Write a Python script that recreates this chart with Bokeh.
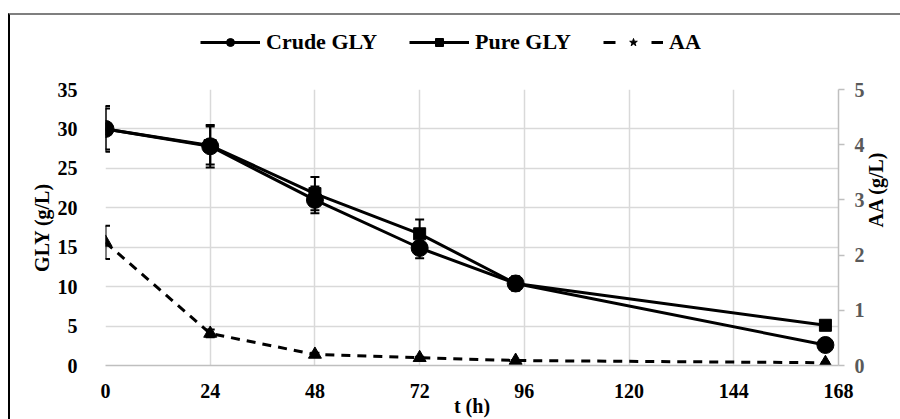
import math
from bokeh.plotting import figure
from bokeh.layouts import column
from bokeh.models import (Range1d, LinearAxis, FixedTicker, ColumnDataSource, Whisker,
                          TeeHead, Legend, LegendItem, InlineStyleSheet)
from bokeh.embed import file_html
from bokeh.resources import INLINE

# ---- data ----
t_hours = [0, 24, 48, 72, 94, 165]
crude_gly = [30.0, 27.8, 21.0, 14.9, 10.4, 2.6]
crude_err = [2.9, 2.7, 1.7, 1.3, 0.9, 0.0]
pure_gly = [30.0, 27.9, 21.8, 16.7, 10.4, 5.1]
pure_err = [2.6, 2.4, 2.1, 1.8, 0.9, 0.0]
aa = [2.23, 0.58, 0.20, 0.14, 0.09, 0.05]
aa_err = [0.30, 0.07, 0.03, 0.02, 0.01, 0.0]
x_ticks = [0, 24, 48, 72, 96, 120, 144, 168]
left_ticks = [0, 5, 10, 15, 20, 25, 30, 35]
right_ticks = [0, 1, 2, 3, 4, 5]
series_names = ["Crude GLY", "Pure GLY", "AA"]

FONT = "Liberation Serif"
TICK_SIZE = "20px"
LABEL_SIZE = "20px"
LEG_H = 75

src = ColumnDataSource(dict(
    t=t_hours,
    crude=crude_gly, crude_lo=[v - e for v, e in zip(crude_gly, crude_err)],
    crude_hi=[v + e for v, e in zip(crude_gly, crude_err)],
    pure=pure_gly, pure_lo=[v - e for v, e in zip(pure_gly, pure_err)],
    pure_hi=[v + e for v, e in zip(pure_gly, pure_err)],
    aa=aa, aa_lo=[v - e for v, e in zip(aa, aa_err)],
    aa_hi=[v + e for v, e in zip(aa, aa_err)],
))

# ---------------- main chart ----------------
p = figure(width=900, height=419 - LEG_H, output_backend="svg", toolbar_location=None,
           x_range=Range1d(0, 168), y_range=Range1d(0, 35),
           min_border_left=105, min_border_right=60, min_border_top=89 - LEG_H,
           min_border_bottom=53)
p.outline_line_color = None
p.background_fill_color = "white"
p.border_fill_color = "white"

p.extra_y_ranges = {"aa": Range1d(0, 5)}

p.xaxis.ticker = FixedTicker(ticks=x_ticks)
p.yaxis.ticker = FixedTicker(ticks=left_ticks)
for ax in [p.xaxis[0], p.yaxis[0]]:
    ax.major_label_text_font = FONT
    ax.major_label_text_font_style = "bold"
    ax.major_label_text_font_size = TICK_SIZE
    ax.major_label_text_color = "black"
    ax.axis_label_text_font = FONT
    ax.axis_label_text_font_style = "bold"
    ax.axis_label_text_font_size = LABEL_SIZE
    ax.axis_label_text_color = "black"
    ax.major_tick_line_color = None
    ax.minor_tick_line_color = None
p.xaxis.axis_line_color = "#bfbfbf"
p.xaxis.axis_line_width = 1.5
p.xaxis.major_label_standoff = 12
p.xaxis.axis_label = "t (h)"
p.xaxis.axis_label_standoff = -6
p.yaxis.axis_line_color = None
p.yaxis.major_label_standoff = 22
p.yaxis.axis_label = "GLY (g/L)"
p.yaxis.axis_label_standoff = 2

right = LinearAxis(y_range_name="aa", ticker=FixedTicker(ticks=right_ticks),
                   axis_label="AA (g/L)")
right.major_label_text_font = FONT
right.major_label_text_font_style = "bold"
right.major_label_text_font_size = TICK_SIZE
right.major_label_text_color = "#595959"
right.axis_label_text_font = FONT
right.axis_label_text_font_style = "bold"
right.axis_label_text_font_size = LABEL_SIZE
right.axis_label_text_color = "black"
right.axis_label_orientation = math.pi / 2
right.axis_line_color = "#bfbfbf"
right.axis_line_width = 1.5
right.major_tick_line_color = "#bfbfbf"
right.major_tick_line_width = 1.5
right.major_tick_out = 6
right.major_tick_in = 0
right.minor_tick_line_color = None
right.major_label_standoff = 10
right.axis_label_standoff = 8
p.add_layout(right, "right")

p.xgrid.grid_line_color = "#d9d9d9"
p.ygrid.grid_line_color = "#d9d9d9"
p.xgrid.grid_line_width = 1.5
p.ygrid.grid_line_width = 1.5

def whisk(lo, hi, rng=None):
    kw = dict(base="t", lower=lo, upper=hi, source=src, line_color="black", line_width=2,
              upper_head=TeeHead(size=9, line_width=2, line_color="black"),
              lower_head=TeeHead(size=9, line_width=2, line_color="black"))
    if rng:
        kw["y_range_name"] = rng
    p.add_layout(Whisker(**kw))

whisk("crude_lo", "crude_hi")
whisk("pure_lo", "pure_hi")
whisk("aa_lo", "aa_hi", "aa")

p.line("t", "crude", source=src, line_color="black", line_width=3)
p.scatter("t", "crude", source=src, marker="circle", size=17, color="black")
p.line("t", "pure", source=src, line_color="black", line_width=3)
p.scatter("t", "pure", source=src, marker="square", size=12, color="black")
p.line("t", "aa", source=src, line_color="black", line_width=3, line_dash="9 7",
       y_range_name="aa")
p.scatter("t", "aa", source=src, marker="triangle", size=13, color="black",
          y_range_name="aa")

# ---------------- legend strip ----------------
# Legend swatches reuse the series data; the strip's ranges keep them out of view.
lf = figure(width=900, height=LEG_H, output_backend="svg", toolbar_location=None,
            x_axis_type=None, y_axis_type=None, x_range=Range1d(-2, -1), y_range=Range1d(-2, -1),
            min_border=0, min_border_left=0, min_border_right=0, min_border_top=0,
            min_border_bottom=0)
lf.outline_line_color = None
lf.grid.visible = False
r1 = [lf.line("t", "crude", source=src, line_color="black", line_width=3),
      lf.scatter("t", "crude", source=src, marker="circle", size=11, color="black")]
r2 = [lf.line("t", "pure", source=src, line_color="black", line_width=3),
      lf.scatter("t", "pure", source=src, marker="square", size=9, color="black")]
r3 = [lf.line("t", "aa", source=src, line_color="black", line_width=3, line_dash="12 36"),
      lf.scatter("t", "aa", source=src, marker="star", size=16, color="black")]
legend = Legend(items=[LegendItem(label=n, renderers=r) for n, r in zip(series_names, [r1, r2, r3])],
                orientation="horizontal", location=(95, 20),
                label_text_font=FONT, label_text_font_style="bold", label_text_font_size="22px",
                label_text_color="black", glyph_width=60, glyph_height=20, label_standoff=6,
                spacing=32, padding=0, margin=0, border_line_color=None,
                background_fill_alpha=0)
lf.add_layout(legend, "center")

layout = column(lf, p, spacing=0)
layout.stylesheets = [InlineStyleSheet(css=(
    ":host::after { content: ''; position: absolute; left: 8px; top: 13px; "
    "width: 892px; height: 406px; box-sizing: border-box; "
    "border-left: 2px solid #000000; border-top: 2px solid #7f7f7f; "
    "pointer-events: none; z-index: 10; }"))]

open("out.html", "w").write(file_html(layout, INLINE))
